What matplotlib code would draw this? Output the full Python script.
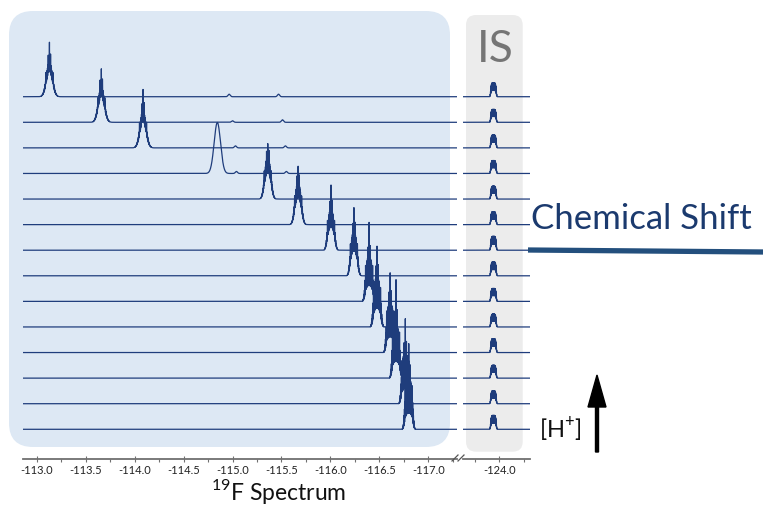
import numpy as np
import matplotlib
matplotlib.use('Agg')
import matplotlib.pyplot as plt
import matplotlib.patches as mpatches
from matplotlib.lines import Line2D
from matplotlib.transforms import IdentityTransform
from matplotlib.ticker import MultipleLocator, FormatStrFormatter, FixedLocator

plt.rcParams['font.family'] = ['Lato', 'DejaVu Sans']
plt.rcParams['mathtext.fontset'] = 'custom'
plt.rcParams['mathtext.rm'] = 'Lato'
plt.rcParams['axes.unicode_minus'] = False

##### peak data (top trace first)
peak_ppm = [-113.13, -113.66, -114.086, -114.845, -115.36, -115.67, -116.006,
            -116.24, -116.395, -116.476, -116.61, -116.67, -116.765, -116.80]
peak_h = [55, 54, 59, 51, 56, 59, 66, 69, 79, 82, 81, 100, 85, 87]  # px above baseline
peak_body = [0.65, 0.68, 0.64, 1.0, 0.73, 0.7, 0.6, 0.62, 0.55, 0.6, 0.6, 0.52, 0.58, 0.58]
peak_a = [0.043, 0.043, 0.043, 0.046, 0.043, 0.043, 0.043, 0.043, 0.044, 0.044, 0.045, 0.045, 0.045, 0.045]
peak_p = [2, 2, 2, 2, 2.5, 2.5, 3, 3, 3.5, 3.5, 4, 4, 4, 4]
peak_comb = [0.15, 0.15, 0.15, 0.0, 0.18, 0.18, 0.22, 0.22, 0.32, 0.32, 0.35, 0.35, 0.35, 0.35]

# small impurity bumps (trace index, ppm)
bump_trace = [0, 0, 1, 1, 2, 2, 3, 3]
bump_ppm = [-114.965, -115.47, -115.00, -115.51, -115.03, -115.54, -115.04, -115.55]
bump_h = [2.5, 2.5, 1.5, 2.5, 2, 2, 2, 2]

# internal standard
is_ppm = -123.94
is_h = [14, 13, 13, 13, 13, 13, 14, 14, 13, 13, 14, 13, 13, 14]

ticks_main = [-113.0, -113.5, -114.0, -114.5, -115.0, -115.5, -116.0, -116.5, -117.0]
ticks_is = [-124.0]

W, H = 763, 505
spacing = 25.58
ntr = len(peak_ppm)

fig = plt.figure(figsize=(W/100, H/100), dpi=100)

def px_box(x0, y0, x1, y1):
	return [x0/W, 1-y1/H, (x1-x0)/W, (y1-y0)/H]

def rbox(x0, y0, x1, y1, r, col):
	p = mpatches.FancyBboxPatch((x0, H-y1), x1-x0, y1-y0,
		boxstyle="round,pad=0,rounding_size=%g" % r,
		transform=IdentityTransform(), facecolor=col, edgecolor='none', zorder=-5)
	fig.add_artist(p)

rbox(9, 11, 450, 447, 24, '#dde8f4')
rbox(466, 15, 522.7, 451.7, 10, '#ececec')

y_bot = -(459-429.3)/spacing
y_top = 13 + 96.7/spacing

ax1 = fig.add_axes(px_box(22.7, 0, 457, 459))
ax2 = fig.add_axes(px_box(462.7, 0, 529.5, 459))

def multiplet(x, c, h, body, a, p, depth):
	env = np.exp(-(np.abs(x-c)/a)**p)
	comb = (1-depth) + depth*np.cos(2*np.pi*(x-c)/0.004)
	y = body*h*env*comb
	y += (1-body)*h*np.exp(-0.5*((x-c)/0.0012)**2)
	if body < 1:
		for d, s in [(-0.011, 0.22), (0.013, 0.2), (-0.036, 0.12), (0.036, 0.12)]:
			y += s*h*np.exp(-0.5*((x-c-d)/0.0012)**2)
	return y

col = '#1f3d7c'
x1 = np.arange(-112.857, -117.293, -0.0004)
for i in range(ntr):
	off = ntr-1-i
	y = multiplet(x1, peak_ppm[i], peak_h[i]/spacing, peak_body[i], peak_a[i], peak_p[i], peak_comb[i])
	for t, p, bh in zip(bump_trace, bump_ppm, bump_h):
		if t == i:
			y += bh/spacing*np.exp(-0.5*((x1-p)/0.011)**2)
	ax1.plot(x1, y+off, color=col, lw=0.9)

x2 = np.arange(-123.626, -124.308, -0.0004)
for i in range(ntr):
	off = ntr-1-i
	env = np.exp(-(np.abs(x2-is_ppm)/0.03)**6)
	comb = 0.72 + 0.28*np.cos(2*np.pi*(x2-is_ppm)/0.003)
	ax2.plot(x2, is_h[i]/spacing*env*comb+off, color=col, lw=0.9)

ax1.set_xlim(-112.857, -117.293)
ax2.set_xlim(-123.626, -124.308)
for ax in (ax1, ax2):
	ax.set_ylim(y_bot, y_top)
	ax.patch.set_visible(False)
	for s in ('left', 'right', 'top'):
		ax.spines[s].set_visible(False)
	ax.spines['bottom'].set_color('#707070')
	ax.spines['bottom'].set_linewidth(1.3)
	ax.set_yticks([])
	ax.tick_params(axis='x', which='major', direction='inout', length=4, width=0.8,
		color='#707070', labelsize=8, labelcolor='#222222', pad=2)
	ax.tick_params(axis='x', which='minor', direction='out', length=2, width=0.8, color='#707070')
	ax.xaxis.set_major_formatter(FormatStrFormatter('%.1f'))

ax1.xaxis.set_major_locator(FixedLocator(ticks_main))
ax1.xaxis.set_minor_locator(MultipleLocator(0.25))
ax2.xaxis.set_major_locator(FixedLocator(ticks_is))
ax2.xaxis.set_minor_locator(FixedLocator([-123.75, -124.25]))

# axis break marks
for xb in (452, 458):
	fig.add_artist(Line2D([xb, xb+6], [H-461, H-455], transform=IdentityTransform(),
		color='#555555', lw=0.9))

fig.text(279/W, 1-500/H, r'$^{19}$F Spectrum', ha='center', va='baseline', fontsize=16.5, color='#111111')
fig.text(495/W, 1-49/H, 'IS', ha='center', va='center', fontsize=32, color='#757575')
fig.text(641/W, 1-219/H, 'Chemical Shift', ha='center', va='center', fontsize=25, color='#1b3a6e')
fig.add_artist(Line2D([528, 763], [H-250, H-252], transform=IdentityTransform(),
	color='#234f7d', lw=3.8, solid_capstyle='butt'))
fig.text(560/W, 1-430/H, r'[H$^{+}$]', ha='center', va='center', fontsize=17, color='#111111')
fig.add_artist(mpatches.FancyArrow(597, H-452, 0, 77, width=3, head_width=18, head_length=32,
	length_includes_head=True, transform=IdentityTransform(), color='black'))

plt.savefig('out.png', dpi=100)
